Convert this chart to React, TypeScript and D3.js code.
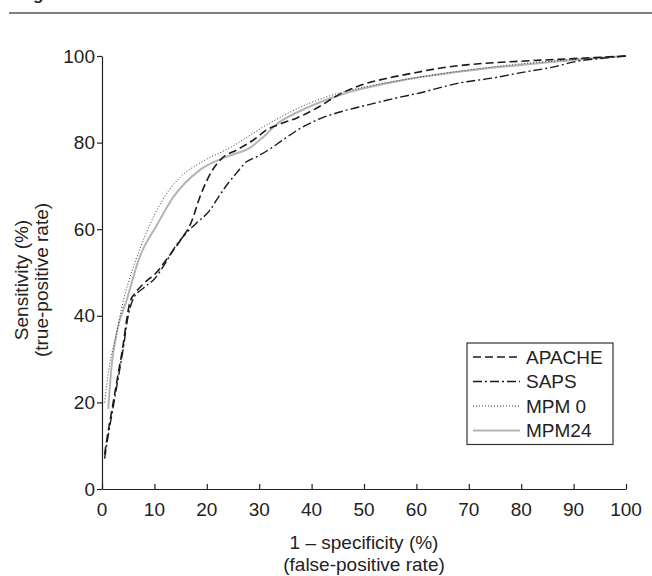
import { useEffect, useRef } from "react"
import * as d3 from "d3"

// ROC curves: 1 - specificity (%) vs sensitivity (%)
const apacheFpr = [0.5, 1, 2, 3, 4, 4.7, 5.3, 6.5, 8, 10.4, 12.3, 15, 17, 18.7, 21, 23, 25.7, 28.9, 31.5, 34.5, 37.2, 41, 45.4, 50, 55, 60, 65, 70, 80, 90, 100]
const apacheSens = [8, 12, 19, 26, 33, 39, 43, 45.5, 47.5, 50, 53, 57.5, 61.5, 67.5, 73.5, 76.5, 78.3, 80.6, 83, 84.5, 85.7, 88, 91.2, 93.5, 95, 96.2, 97.3, 98, 98.8, 99.4, 100]

const sapsFpr = [0.5, 1, 2, 3, 4, 5, 6, 8, 10, 12, 14, 16, 18, 20.6, 22, 24, 25.7, 27.5, 29.5, 32, 34.5, 38, 42, 46.7, 50, 56.9, 60, 68.3, 75, 79.2, 85, 91.8, 95, 100]
const sapsSens = [7, 11, 18, 25, 32, 40, 44, 46.5, 48.5, 52, 56, 59, 61.4, 64.4, 67, 70.5, 73, 75.5, 76.7, 78.5, 80.6, 83.4, 85.7, 87.5, 88.5, 90.5, 91.3, 93.8, 95, 96, 97.2, 99, 99.4, 100]

const mpm0Fpr = [0.5, 0.9, 1.5, 2.5, 4.1, 6, 7.9, 9.8, 11.7, 14.9, 18.7, 24.4, 32, 39, 45.4, 50, 55, 60, 70, 80, 90, 100]
const mpm0Sens = [20, 24, 29, 34.4, 43.6, 51.3, 57.5, 62.8, 67, 72, 75.3, 78.8, 84.5, 88.8, 91.5, 92.8, 94, 95, 96.8, 98.2, 99.2, 100]

const mpm24Fpr = [1.2, 1.8, 2.8, 4.7, 7.2, 10.4, 13.6, 18.7, 24.4, 28.2, 30.7, 33.4, 37.8, 45.4, 56.9, 69.7, 82.3, 95, 100]
const mpm24Sens = [18.5, 28, 36, 43.6, 53.6, 60.8, 67.4, 73.7, 77, 78.8, 81.2, 84.3, 87.3, 91, 94.3, 96.6, 98.2, 99.6, 100]

const seriesNames = ["APACHE", "SAPS", "MPM 0", "MPM24"]
const xTicks = [0, 10, 20, 30, 40, 50, 60, 70, 80, 90, 100]
const yTicks = [0, 20, 40, 60, 80, 100]

const FONT = "'Liberation Sans', Arial, Helvetica, sans-serif"
const FS = 19

export default function App() {
    const ref = useRef<SVGSVGElement>(null)

    useEffect(() => {
        const width = 652
        const height = 576
        const left = 102, right = 626, top = 56, bottom = 489

        const svg = d3.select(ref.current)
        svg.selectAll("*").remove()

        const x = d3.scaleLinear().domain([0, 100]).range([left, right])
        const y = d3.scaleLinear().domain([0, 100]).range([bottom, top])

        // header remnant (only the descender shows) + rule
        svg.append("text")
            .attr("x", 18).attr("y", 0)
            .attr("font-family", FONT).attr("font-weight", "bold").attr("font-size", 17)
            .attr("fill", "#222")
            .text("Fig")
        svg.append("line")
            .attr("x1", 9).attr("x2", width).attr("y1", 13).attr("y2", 13)
            .attr("stroke", "#555").attr("stroke-width", 1.5)

        const styles = [
            { name: seriesNames[0], xs: apacheFpr, ys: apacheSens, stroke: "#1a1a1a", width: 1.6, dash: "8,4" },
            { name: seriesNames[1], xs: sapsFpr, ys: sapsSens, stroke: "#1a1a1a", width: 1.4, dash: "9,3,2,3" },
            { name: seriesNames[2], xs: mpm0Fpr, ys: mpm0Sens, stroke: "#333", width: 1, dash: "1,2" },
            { name: seriesNames[3], xs: mpm24Fpr, ys: mpm24Sens, stroke: "#b4b4b4", width: 2, dash: null },
        ]

        const line = d3.line<[number, number]>()
            .x(d => x(d[0]))
            .y(d => y(d[1]))
            .curve(d3.curveMonotoneX)

        // gray first so the dashed curves sit on top
        const order = [3, 2, 1, 0]
        order.forEach(i => {
            const s = styles[i]
            const pts = s.xs.map((v, k) => [v, s.ys[k]] as [number, number])
            svg.append("path")
                .attr("d", line(pts))
                .attr("fill", "none")
                .attr("stroke", s.stroke)
                .attr("stroke-width", s.width)
                .attr("stroke-dasharray", s.dash)
        })

        // x axis, ticks pointing inward
        const gx = svg.append("g")
            .attr("transform", `translate(0,${bottom})`)
            .call(d3.axisTop(x).tickValues(xTicks).tickSize(5).tickSizeOuter(0))
        gx.selectAll("text").remove()
        gx.select(".domain").attr("stroke", "#222").attr("stroke-width", 1.2)
        gx.selectAll(".tick line").attr("stroke", "#222").attr("stroke-width", 1.2)
        svg.append("g")
            .selectAll("text")
            .data(xTicks)
            .join("text")
                .attr("x", d => x(d))
                .attr("y", bottom + 20)
                .attr("dy", "0.35em")
                .attr("text-anchor", "middle")
                .attr("font-family", FONT).attr("font-size", FS).attr("fill", "#222")
                .text(d => d)

        // y axis
        const gy = svg.append("g")
            .attr("transform", `translate(${left},0)`)
            .call(d3.axisLeft(y).tickValues(yTicks).tickSize(5).tickSizeOuter(0).tickPadding(2))
        gy.select(".domain").attr("stroke", "#222").attr("stroke-width", 1.2)
        gy.selectAll(".tick line").attr("stroke", "#222").attr("stroke-width", 1.2)
        gy.selectAll("text")
            .attr("font-family", FONT).attr("font-size", FS).attr("fill", "#222")

        // axis titles
        const xt = svg.append("text")
            .attr("text-anchor", "middle")
            .attr("font-family", FONT).attr("font-size", FS).attr("fill", "#222")
        xt.append("tspan").attr("x", (left + right) / 2).attr("y", 549).text("1 \u2013 specificity (%)")
        xt.append("tspan").attr("x", (left + right) / 2).attr("y", 571).text("(false-positive rate)")

        const yt = svg.append("text")
            .attr("transform", `translate(0,280) rotate(-90)`)
            .attr("text-anchor", "middle")
            .attr("font-family", FONT).attr("font-size", FS).attr("fill", "#222")
        yt.append("tspan").attr("x", 0).attr("y", 28).text("Sensitivity (%)")
        yt.append("tspan").attr("x", 0).attr("y", 48).text("(true-positive rate)")

        // legend
        const lgLeft = 467, lgRight = 613, rowH = 24.5, firstRow = 357
        svg.append("rect")
            .attr("x", lgLeft).attr("y", firstRow - 14)
            .attr("width", lgRight - lgLeft).attr("height", rowH * 3 + 28)
            .attr("fill", "white").attr("stroke", "#333").attr("stroke-width", 1.2)
        const rows = svg.append("g")
            .selectAll("g")
            .data(styles)
            .join("g")
                .attr("transform", (_, i) => `translate(0,${firstRow + i * rowH})`)
        rows.append("line")
            .attr("x1", lgLeft + 6).attr("x2", lgLeft + 53)
            .attr("stroke", d => d.stroke)
            .attr("stroke-width", d => d.width)
            .attr("stroke-dasharray", d => d.dash)
        rows.append("text")
            .attr("x", lgLeft + 59)
            .attr("dy", "0.35em")
            .attr("font-family", FONT).attr("font-size", FS).attr("fill", "#222")
            .text(d => d.name)

        svg.attr("width", width).attr("height", height)
    }, [])

    return (
        <svg ref={ref} width={652} height={576}
            style={{ position: "absolute", left: 0, top: 0, background: "white" }} />
    )
}
